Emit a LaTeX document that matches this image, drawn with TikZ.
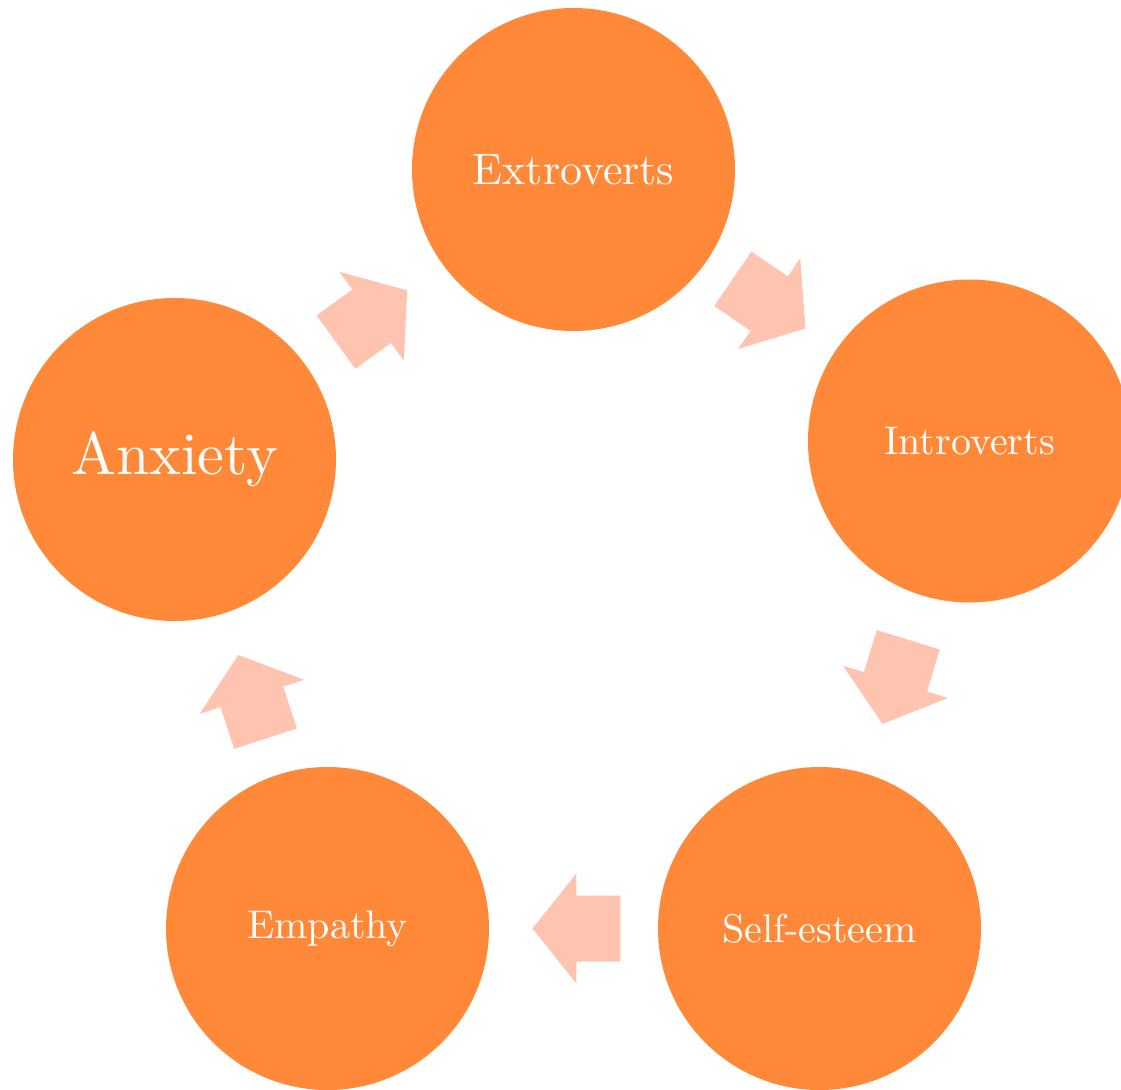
\documentclass[tikz,border=0pt]{standalone}
\usepackage{fontspec}
\setmainfont{lmroman10-regular.otf}
\usetikzlibrary{calc}
\definecolor{circfill}{RGB}{255,137,56}
\definecolor{arrfill}{RGB}{255,196,176}
\begin{document}
\begin{tikzpicture}[x=0.5pt,y=-0.5pt,
  bubble/.style={circle, fill=circfill, draw=none, minimum size=161.5pt, inner sep=0pt,
    text=white, font=\fontsize{20pt}{24pt}\selectfont},
  cyc arrow/.pic={\fill[arrfill] (-22pt,-16.5pt) -- (0pt,-16.5pt) -- (0pt,-27.5pt) -- (22pt,0pt)
    -- (0pt,27.5pt) -- (0pt,16.5pt) -- (-22pt,16.5pt) -- cycle;}
]
\useasboundingbox (0,0) rectangle (1121,1089);
\clip (0,0) rectangle (1121,1089);
\node[bubble, font=\fontsize{22pt}{26pt}\selectfont] (ext) at (573.5,169.5) {Extroverts};
\node[bubble] (intro) at (969.5,441) {Introverts};
\node[bubble] (self) at (819.5,928.5) {Self-esteem};
\node[bubble] (emp) at (327.5,928.5) {Empathy};
\node[bubble, font=\fontsize{30pt}{36pt}\selectfont] (anx) at (174.5,459.5) {Anxiety};
\foreach \a/\b in {anx/ext,ext/intro,intro/self,self/emp,emp/anx}{
  \path let \p1=(\a.center), \p2=(\b.center), \n1={atan2(\y2-\y1,\x2-\x1)} in
    ($(\p1)!0.494!(\p2)$) pic[rotate=\n1] {cyc arrow};
}
\end{tikzpicture}
\end{document}
